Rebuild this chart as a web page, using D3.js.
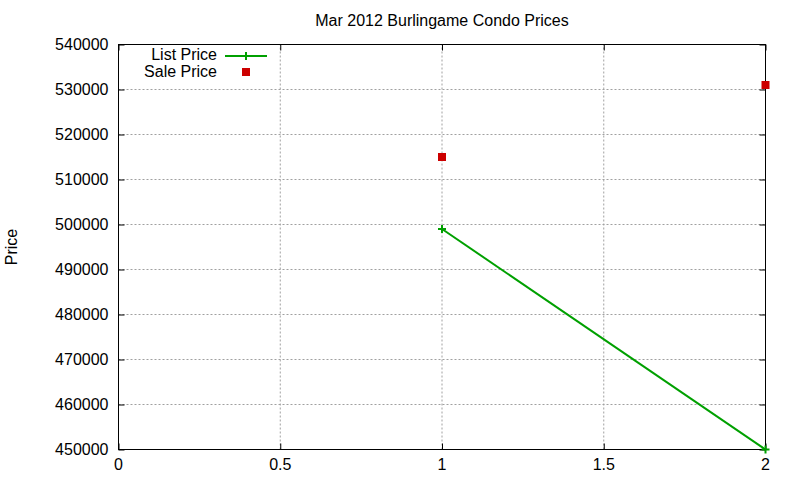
<!DOCTYPE html>
<meta charset="utf-8">
<style>
body { margin: 0; background: #fff; }
text { font-family: "Liberation Sans", Arial, sans-serif; font-size: 16px; fill: #000; }
.grid line { stroke: #a0a0a0; stroke-dasharray: 2,2; stroke-width: 1; }
.frame { fill: none; stroke: #000; stroke-width: 1; }
.line { fill: none; stroke: #00a000; stroke-width: 2; }
</style>
<body>
<script src="https://d3js.org/d3.v7.min.js"></script>
<script>
// data
var xs = [1, 2];
var listPrice = [499000, 450000];
var salePrice = [515000, 531000];
var xTicks = [0, 0.5, 1, 1.5, 2];
var yTicks = [450000, 460000, 470000, 480000, 490000, 500000, 510000, 520000, 530000, 540000];

var width = 800, height = 480;
var margin = {top: 44.5, right: 34.5, bottom: 30.5, left: 118.5};

var svg = d3.select("body").append("svg")
    .attr("width", width).attr("height", height);

var x = d3.scaleLinear().domain([0, 2]).range([margin.left, width - margin.right]);
var y = d3.scaleLinear().domain([450000, 540000]).range([height - margin.bottom, margin.top]);

// grid
var grid = svg.append("g").attr("class", "grid");
grid.selectAll(".gx").data(xTicks.slice(1, -1)).enter().append("line")
    .attr("x1", d => x(d)).attr("x2", d => x(d))
    .attr("y1", y.range()[0]).attr("y2", y.range()[1]);
grid.selectAll(".gy").data(yTicks.slice(1, -1)).enter().append("line")
    .attr("y1", d => y(d)).attr("y2", d => y(d))
    .attr("x1", x.range()[0]).attr("x2", x.range()[1]);

// axes with inward ticks, mirrored
function noDomain(g) { g.select(".domain").remove(); g.selectAll("text").remove(); }
svg.append("g").attr("transform", "translate(0," + y.range()[0] + ")")
    .call(d3.axisTop(x).tickValues(xTicks).tickSize(6)).call(noDomain);
svg.append("g").attr("transform", "translate(0," + y.range()[1] + ")")
    .call(d3.axisBottom(x).tickValues(xTicks).tickSize(6)).call(noDomain);
svg.append("g").attr("transform", "translate(" + x.range()[0] + ",0)")
    .call(d3.axisRight(y).tickValues(yTicks).tickSize(6)).call(noDomain);
svg.append("g").attr("transform", "translate(" + x.range()[1] + ",0)")
    .call(d3.axisLeft(y).tickValues(yTicks).tickSize(6)).call(noDomain);
svg.selectAll(".tick line").attr("stroke", "#000");

// tick labels
svg.append("g").selectAll("text").data(xTicks).enter().append("text")
    .attr("x", d => x(d)).attr("y", y.range()[0] + 20)
    .attr("text-anchor", "middle").text(d => d);
svg.append("g").selectAll("text").data(yTicks).enter().append("text")
    .attr("x", x.range()[0] - 10).attr("y", d => y(d) + 5)
    .attr("text-anchor", "end").text(d => d);

svg.append("rect").attr("class", "frame")
    .attr("x", x.range()[0]).attr("y", y.range()[1])
    .attr("width", x.range()[1] - x.range()[0])
    .attr("height", y.range()[0] - y.range()[1]);

// title and axis label
svg.append("text").attr("x", (x.range()[0] + x.range()[1]) / 2).attr("y", 26)
    .attr("text-anchor", "middle").text("Mar 2012 Burlingame Condo Prices");
svg.append("text").attr("transform", "translate(17,247) rotate(-90)")
    .attr("text-anchor", "middle").text("Price");

// list price line with + markers
var line = d3.line().x((d, i) => x(xs[i])).y(d => y(d));
svg.append("path").attr("class", "line").attr("d", line(listPrice));
function plus(g, cx, cy) {
  g.append("path").attr("d", "M" + (cx - 4) + "," + cy + "h8M" + cx + "," + (cy - 4) + "v8")
    .attr("stroke", "#00a000").attr("stroke-width", 2);
}
listPrice.forEach((d, i) => plus(svg, x(xs[i]), y(d)));

// sale price squares
svg.selectAll(".sale").data(salePrice).enter().append("rect")
    .attr("x", (d, i) => x(xs[i]) - 4).attr("y", d => y(d) - 4)
    .attr("width", 8).attr("height", 8).attr("fill", "#cc0000");

// legend
svg.append("text").attr("x", 217).attr("y", 60).attr("text-anchor", "end").text("List Price");
svg.append("line").attr("x1", 225).attr("x2", 267).attr("y1", 56).attr("y2", 56)
    .attr("stroke", "#00a000").attr("stroke-width", 2);
plus(svg, 246, 56);
svg.append("text").attr("x", 217).attr("y", 77).attr("text-anchor", "end").text("Sale Price");
svg.append("rect").attr("x", 242).attr("y", 68).attr("width", 8).attr("height", 8).attr("fill", "#cc0000");
</script>
</body>
